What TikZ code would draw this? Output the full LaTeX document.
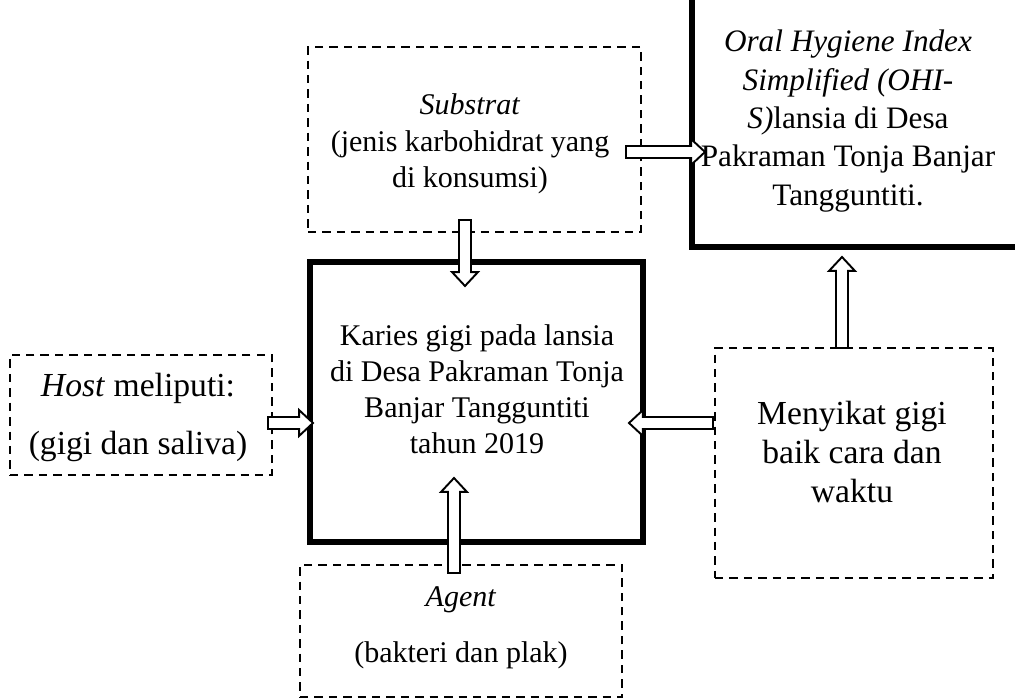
\documentclass[tikz,border=0pt]{standalone}
\usepackage{fontspec}
\setmainfont{Liberation Serif}
\usetikzlibrary{calc,fit}
\tikzset{
 dashbox/.style={draw, dash pattern=on 3.5pt off 2.5pt, line width=0.8pt, inner sep=0pt},
 thickbox/.style={draw, line width=2.1pt, inner sep=0pt},
 fatarr/.style={draw, fill=white, line width=0.8pt, line join=miter},
 txt/.style={align=center, inner sep=0pt, font=\fontsize{12.5}{15}\selectfont},
 bigtxt/.style={align=center, inner sep=0pt, font=\fontsize{14}{16.2}\selectfont},
}
% block arrow from #1 to #2
\newcommand{\fatarrow}[2]{%
 \path ($(#2)!5.8pt!(#1)$) coordinate (hb);
 \draw[fatarr] ($(#1)!2.5pt!90:(#2)$) -- ($(hb)!2.5pt!90:(#2)$) -- ($(hb)!5.4pt!90:(#2)$)
  -- (#2) -- ($(hb)!5.4pt!-90:(#2)$) -- ($(hb)!2.5pt!-90:(#2)$) -- ($(#1)!2.5pt!-90:(#2)$) -- cycle;}
\begin{document}
\begin{tikzpicture}[x=0.01464cm,y=-0.01464cm]
 \useasboundingbox (0,0) rectangle (1015,699);

 % boxes
 \node[dashbox, fit={(308,47) (641,232)}] (sub) {};
 \node[thickbox, fit={(692,-5) (1030,247)}] (ohi) {};
 \node[thickbox, fit={(310,262) (643,542)}] (karies) {};
 \node[dashbox, fit={(10,355) (272,475)}] (host) {};
 \node[dashbox, fit={(715,348) (993,578)}] (sikat) {};
 \node[dashbox, fit={(300,565) (622,697)}] (agent) {};

 % texts
 \node[txt] (subhead) at (470,104) {\textit{Substrat}};
 \node[txt] (subtext) at (470,162) {(jenis karbohidrat yang\\di konsumsi)};
 \node[txt, font=\fontsize{13}{16}\selectfont] (ohitext) at (848,121)
  {\textit{Oral Hygiene Index}\\\textit{Simplified (OHI-}\\\textit{S)}lansia di Desa\\Pakraman Tonja Banjar\\Tangguntiti.};
 \node[txt] (kariestext) at (477,389) {Karies gigi pada lansia\\di Desa Pakraman Tonja\\Banjar Tangguntiti\\tahun 2019};
 \node[bigtxt] (hosthead) at (138,388) {\textit{Host} meliputi:};
 \node[bigtxt] (hosttext) at (138,446) {(gigi dan saliva)};
 \node[bigtxt] (sikattext) at (852,452) {Menyikat gigi\\baik cara dan\\waktu};
 \node[txt] (agenthead) at (461,600) {\textit{Agent}};
 \node[txt] (agenttext) at (461,655) {(bakteri dan plak)};

 % arrows
 \coordinate (s1) at (626,152); \coordinate (t1) at (705,152);
 \coordinate (s2) at (465,220); \coordinate (t2) at (465,286);
 \coordinate (s3) at (842,348); \coordinate (t3) at (842,257);
 \coordinate (s4) at (268,423); \coordinate (t4) at (313,423);
 \coordinate (s5) at (713,423); \coordinate (t5) at (629,423);
 \coordinate (s6) at (454,573); \coordinate (t6) at (454,478);
 \fatarrow{s1}{t1}
 \fatarrow{s2}{t2}
 \fatarrow{s3}{t3}
 \fatarrow{s4}{t4}
 \fatarrow{s5}{t5}
 \fatarrow{s6}{t6}
\end{tikzpicture}
\end{document}
